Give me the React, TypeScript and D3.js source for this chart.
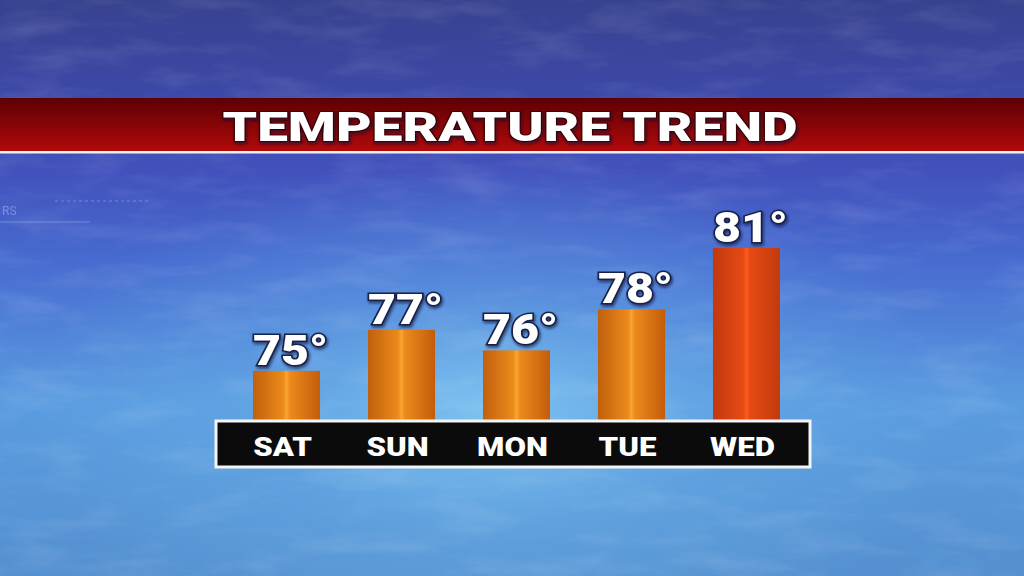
import React from "react";
import * as d3 from "d3";

const days = ["SAT", "SUN", "MON", "TUE", "WED"];
const temps = [75, 77, 76, 78, 81];
const title = "TEMPERATURE TREND";

const W = 1024;
const H = 576;
const FONT = "Roboto, Inter, 'Liberation Sans', 'DejaVu Sans', sans-serif";

export default function App() {
  const x = d3.scaleBand<string>().domain(days).range([253, 780]).paddingInner(0.417).paddingOuter(0);
  const y = d3.scaleLinear().domain([72.6, 81]).range([420, 248]);
  const bw = x.bandwidth();

  return (
    <svg width={W} height={H} style={{ position: "absolute", left: 0, top: 0 }} xmlns="http://www.w3.org/2000/svg">
      <defs>
        <linearGradient id="sky" x1="0" y1="0" x2="0" y2="1">
          <stop offset="0" stopColor="#37428f" />
          <stop offset="0.17" stopColor="#3d49a8" />
          <stop offset="0.3" stopColor="#4252bd" />
          <stop offset="0.45" stopColor="#476bd0" />
          <stop offset="0.7" stopColor="#5a9ce0" />
          <stop offset="1" stopColor="#5590d0" />
        </linearGradient>
        <radialGradient id="glow" cx="0.48" cy="0.72" r="0.45">
          <stop offset="0" stopColor="#86caf4" stopOpacity="0.85" />
          <stop offset="0.5" stopColor="#6cb3ea" stopOpacity="0.35" />
          <stop offset="1" stopColor="#6cb3ea" stopOpacity="0" />
        </radialGradient>
        <filter id="clouds" x="0" y="0" width="100%" height="100%">
          <feTurbulence type="fractalNoise" baseFrequency="0.012 0.045" numOctaves="4" seed="3" />
          <feColorMatrix type="matrix" values="0 0 0 0 1  0 0 0 0 1  0 0 0 0 1  0 0 0 1.2 -0.55" />
        </filter>
        <linearGradient id="banner" x1="0" y1="0" x2="0" y2="1">
          <stop offset="0" stopColor="#5c0004" />
          <stop offset="1" stopColor="#b30a0a" />
        </linearGradient>
        <linearGradient id="barOrange" x1="0" y1="0" x2="1" y2="0">
          <stop offset="0" stopColor="#c0600c" />
          <stop offset="0.45" stopColor="#ec8a1c" />
          <stop offset="0.5" stopColor="#fba431" />
          <stop offset="0.55" stopColor="#ec8a1c" />
          <stop offset="1" stopColor="#c45c0c" />
        </linearGradient>
        <linearGradient id="barRed" x1="0" y1="0" x2="1" y2="0">
          <stop offset="0" stopColor="#c2380e" />
          <stop offset="0.45" stopColor="#e64a14" />
          <stop offset="0.5" stopColor="#fc5e1c" />
          <stop offset="0.55" stopColor="#e64a14" />
          <stop offset="1" stopColor="#c23a0e" />
        </linearGradient>
        <filter id="shadow" x="-20%" y="-20%" width="140%" height="140%">
          <feDropShadow dx="1" dy="2" stdDeviation="1.5" floodColor="#0a1030" floodOpacity="0.7" />
        </filter>
      </defs>

      <rect x={0} y={0} width={W} height={H} fill="url(#sky)" />
      <rect x={0} y={0} width={W} height={H} fill="url(#glow)" />
      <rect x={0} y={0} width={W} height={H} filter="url(#clouds)" opacity={0.2} />

      {/* faint decorative graphics */}
      <g opacity={0.35} stroke="#c8d4ff" fill="none" strokeWidth={1}>
        <line x1={0} y1={222} x2={90} y2={222} />
        <line x1={55} y1={201} x2={148} y2={201} strokeDasharray="3 3" />
      </g>
      <text x={2} y={215} fontFamily={FONT} fontSize={12} fill="#c8d4ff" opacity={0.4}>RS</text>

      {/* title banner */}
      <rect x={0} y={98} width={W} height={54} fill="url(#banner)" />
      <rect x={0} y={151} width={W} height={2.5} fill="#f2f2f6" />
      <text
        x={510}
        y={141}
        textAnchor="middle"
        fontFamily={FONT}
        fontWeight={900}
        fontSize={40}
        fill="#ffffff"
        stroke="#3a0000"
        strokeWidth={2}
        paintOrder="stroke"
        textLength={575}
        lengthAdjust="spacingAndGlyphs"
        filter="url(#shadow)"
      >
        {title}
      </text>

      {/* bars */}
      {days.map((d, i) => (
        <rect
          key={d}
          x={x(d)}
          y={y(temps[i])}
          width={bw}
          height={y(72.6) - y(temps[i])}
          fill={temps[i] >= 80 ? "url(#barRed)" : "url(#barOrange)"}
        />
      ))}

      {/* value labels */}
      {days.map((d, i) => (
        <g key={d + "v"} transform={`translate(${(x(d) as number) + bw / 2 + 4},${y(temps[i]) - 6}) scale(1.15,1)`}>
          <text
            textAnchor="middle"
            fontFamily={FONT}
            fontWeight={900}
            fontSize={42}
            fill="#ffffff"
            stroke="#17224a"
            strokeWidth={3}
            paintOrder="stroke"
            filter="url(#shadow)"
          >
            {temps[i]}°
          </text>
        </g>
      ))}

      {/* day label strip */}
      <rect x={216} y={421} width={594} height={46} fill="#0b0b0b" stroke="#f4f4f4" strokeWidth={3} />
      {days.map((d) => (
        <g key={d + "l"} transform={`translate(${(x(d) as number) + bw / 2 - 4},456) scale(1.2,1)`}>
          <text textAnchor="middle" fontFamily={FONT} fontWeight={900} fontSize={26} fill="#ffffff">
            {d}
          </text>
        </g>
      ))}
    </svg>
  );
}
